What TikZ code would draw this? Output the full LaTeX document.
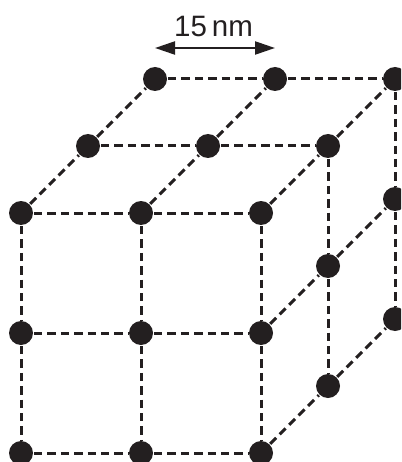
\documentclass[tikz,border=0pt]{standalone}
\usepackage{fontspec}
\setmainfont{Liberation Sans}
\usetikzlibrary{arrows.meta}
\definecolor{ink}{HTML}{231F20}
\tikzset{
  site/.style={circle,fill=ink,minimum size=24pt,inner sep=0pt,outer sep=1pt},
  bond/.style={draw=ink,line width=3pt,dash pattern=on 8.4pt off 5pt},
  dim/.style={draw=ink,line width=2.2pt,{Triangle[length=20pt,width=13pt]}-{Triangle[length=20pt,width=13pt]}},
  lbl/.style={inner sep=0pt,text=ink,font=\fontsize{29.5pt}{29.5pt}\selectfont}
}
\begin{document}
\begin{tikzpicture}[x=1pt,y=-1pt]
\useasboundingbox (0,0) rectangle (401,462);
\clip (0,0) rectangle (401,462);
% sites: name/x/y
\foreach \n/\x/\y in {a1/21/213,a2/141/213,a3/261/213,
  b1/21/333,b2/141/333,b3/261/333,
  c1/21/453,c2/141/453,c3/261/453,
  d1/88/146,d2/208/146,d3/328/146,
  e3/328/266,f3/328/386,
  g1/155/79,g2/275/79,g3/395/79,
  h3/395/199,i3/395/319}
  \node[site] (\n) at (\x,\y) {};
% bonds
\foreach \p/\q in {a1/a2,a2/a3,b1/b2,b2/b3,c1/c2,c2/c3,
  a1/b1,b1/c1,a2/b2,b2/c2,a3/b3,b3/c3,
  a1/d1,d1/g1,a2/d2,d2/g2,a3/d3,d3/g3,
  d1/d2,d2/d3,g1/g2,g2/g3,
  d3/e3,e3/f3,g3/h3,h3/i3,
  b3/e3,e3/h3,c3/f3,f3/i3}
  \path[bond] (\p) -- (\q);
% dimension
\coordinate (dl) at (155,48); \coordinate (dr) at (275,48);
\draw[dim] (dl) -- (dr);
\node[lbl,anchor=base] (t) at (213.5,37) {15\,nm};
\end{tikzpicture}
\end{document}
